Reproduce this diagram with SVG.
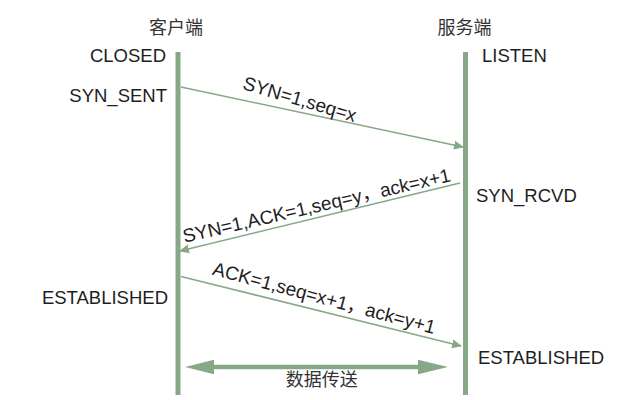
<svg xmlns="http://www.w3.org/2000/svg" width="642" height="400" viewBox="0 0 642 400">
<defs>
<style>
.lbl{font-family:"Liberation Sans",Arial,sans-serif;font-size:18.5px;fill:#1e1e1e}
.cjk{font-family:"Liberation Sans","Noto Sans CJK SC",sans-serif;font-size:18px;fill:#333}
.msg{font-family:"Liberation Sans","Noto Sans CJK SC",sans-serif;font-size:19px;fill:#1e1e1e}
.life{stroke:#87a887;stroke-width:5;fill:none}
.thin{stroke:#87a887;stroke-width:1.5;fill:none}
.fat{stroke:#87a887;stroke-width:4.5;fill:none}
</style>
<marker id="ah" markerWidth="10" markerHeight="10" refX="9" refY="5" orient="auto" markerUnits="userSpaceOnUse">
<path d="M0,0.5 L10,5 L0,9.5 z" fill="#87a887"/>
</marker>
</defs>
<rect width="642" height="400" fill="#fff"/>
<g id="client">
<text class="cjk" x="176" y="34" text-anchor="middle">客户端</text>
<line class="life" x1="178" y1="52" x2="178" y2="395"/>
<text class="lbl" x="166" y="62" text-anchor="end">CLOSED</text>
<text class="lbl" x="167" y="102" text-anchor="end">SYN_SENT</text>
<text class="lbl" x="168" y="304" text-anchor="end">ESTABLISHED</text>
</g>
<g id="server">
<text class="cjk" x="464.5" y="34" text-anchor="middle">服务端</text>
<line class="life" x1="465.5" y1="52" x2="465.5" y2="395"/>
<text class="lbl" x="482" y="62">LISTEN</text>
<text class="lbl" x="476" y="202">SYN_RCVD</text>
<text class="lbl" x="478" y="364">ESTABLISHED</text>
</g>
<g id="connectors">
<line class="thin" x1="181" y1="87" x2="463" y2="147" marker-end="url(#ah)"/>
<text class="msg" x="298" y="105.5" text-anchor="middle" transform="rotate(16.5 298 105.5)">SYN=1,seq=x</text>
<line class="thin" x1="460" y1="183" x2="180" y2="251" marker-end="url(#ah)"/>
<text class="msg" x="318" y="212" text-anchor="middle" transform="rotate(-13 318 212)">SYN=1,ACK=1,seq=y，ack=x+1</text>
<line class="thin" x1="181" y1="276.5" x2="461" y2="346" marker-end="url(#ah)"/>
<text class="msg" x="322.5" y="304.2" text-anchor="middle" transform="rotate(15 322.5 304.2)">ACK=1,seq=x+1，ack=y+1</text>
<g id="data">
<line class="fat" x1="212" y1="367" x2="420" y2="367"/>
<path d="M185,367 L214,359.8 L214,374.2 z" fill="#87a887"/>
<path d="M448,367 L418,359.8 L418,374.2 z" fill="#87a887"/>
<text class="cjk" x="321.7" y="386" text-anchor="middle">数据传送</text>
</g>
</g>
</svg>
